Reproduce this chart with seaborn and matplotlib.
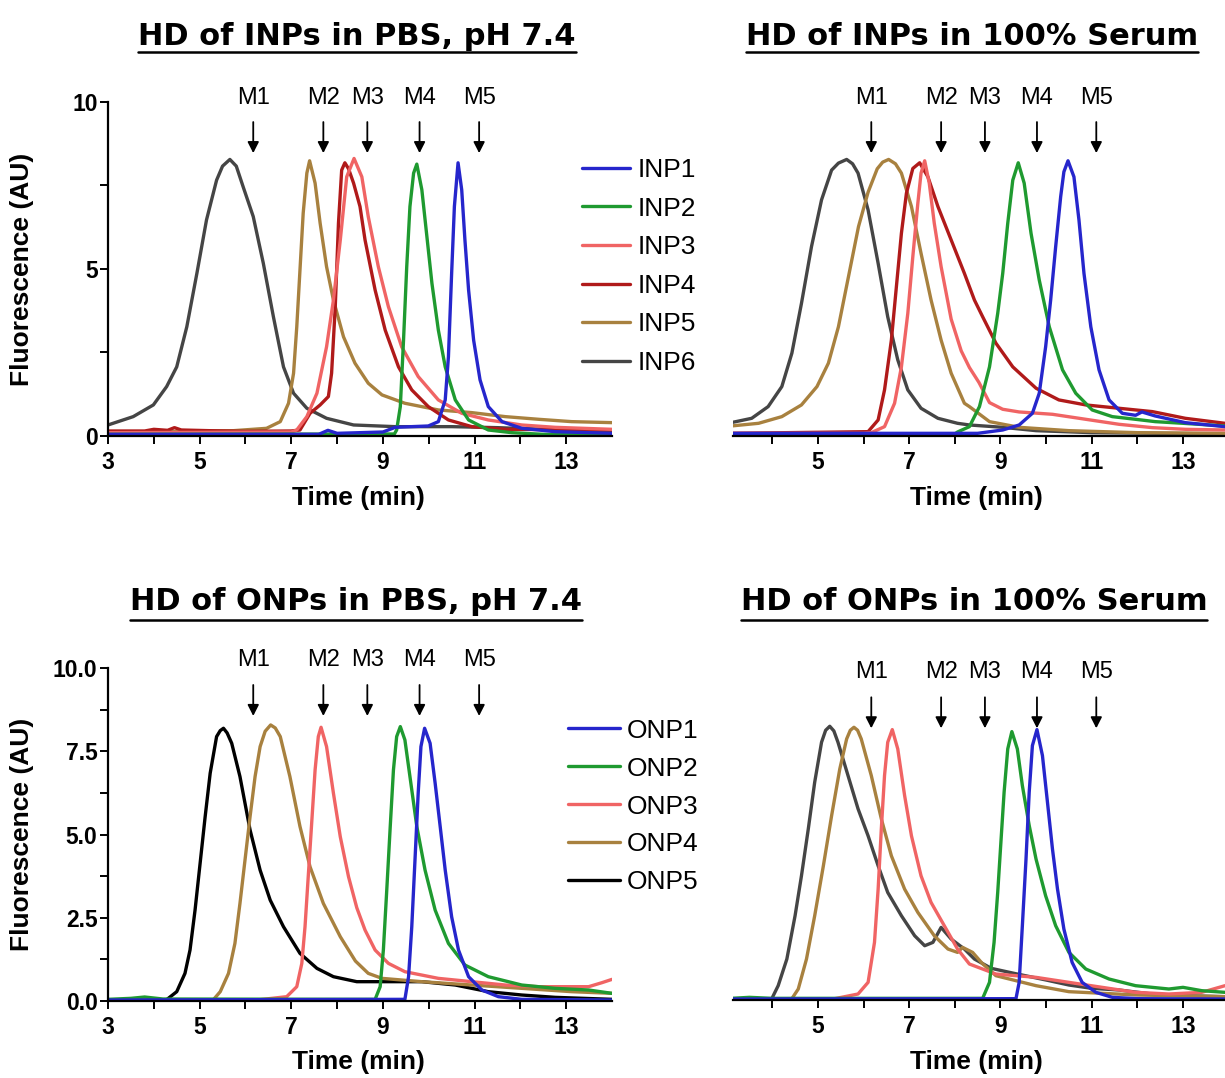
import matplotlib
matplotlib.use("Agg")
import matplotlib.pyplot as plt
from matplotlib.lines import Line2D
from matplotlib.ticker import FixedLocator
import seaborn as sns
import pandas as pd

sns.set_theme(style="ticks")
plt.rcParams["font.family"] = ["Liberation Sans", "DejaVu Sans"]
plt.rcParams.update({"text.color": "black", "axes.labelcolor": "black",
                     "xtick.color": "black", "ytick.color": "black",
                     "axes.edgecolor": "black"})

# ---------------- labels ----------------
TITLES = ["HD of INPs in PBS, pH 7.4", "HD of INPs in 100% Serum",
          "HD of ONPs in PBS, pH 7.4", "HD of ONPs in 100% Serum"]
X_LABEL = "Time (min)"
Y_LABEL = "Fluorescence (AU)"
MARKER_LABELS = ["M1", "M2", "M3", "M4", "M5"]
MARKER_TIMES = [6.17, 7.70, 8.66, 9.80, 11.10]
INP_NAMES = ["INP1", "INP2", "INP3", "INP4", "INP5", "INP6"]
ONP_NAMES = ["ONP1", "ONP2", "ONP3", "ONP4", "ONP5"]
X_TICKS_LEFT = [3, 5, 7, 9, 11, 13]
X_TICKS_RIGHT = [5, 7, 9, 11, 13]
X_MINOR = [4, 6, 8, 10, 12]
Y_TICKS_TOP = [0, 5, 10]
Y_TICKLABELS_TOP = ["0", "5", "10"]
Y_TICKS_BOTTOM = [0, 2.5, 5, 7.5, 10]
Y_TICKLABELS_BOTTOM = ["0.0", "2.5", "5.0", "7.5", "10.0"]

# ---------------- data: (time min, fluorescence AU) ----------------
PBS_INP1 = [(3.0, 0.05), (7.6, 0.05), (7.8, 0.17), (8.0, 0.08), (9.0, 0.12), (9.27, 0.26),
            (9.99, 0.30), (10.21, 0.43), (10.36, 1.08), (10.43, 2.37), (10.50, 4.87),
            (10.56, 6.87), (10.64, 8.18), (10.72, 7.37), (10.79, 5.87), (10.87, 4.37),
            (10.98, 2.87), (11.12, 1.68), (11.30, 0.88), (11.60, 0.43), (12.03, 0.23),
            (12.76, 0.13), (14.0, 0.08)]
PBS_INP2 = [(3.0, 0.05), (9.25, 0.06), (9.30, 0.18), (9.38, 0.88), (9.45, 2.87), (9.52, 5.07),
            (9.59, 6.87), (9.67, 7.87), (9.74, 8.14), (9.85, 7.37), (9.96, 5.97), (10.07, 4.57),
            (10.21, 3.17), (10.36, 2.07), (10.58, 1.08), (10.87, 0.48), (11.30, 0.18),
            (11.81, 0.10), (12.5, 0.05), (14.0, 0.05)]
PBS_INP3 = [(3.0, 0.10), (7.0, 0.12), (7.12, 0.18), (7.34, 0.58), (7.56, 1.28), (7.77, 2.67),
            (7.92, 4.07), (8.07, 5.87), (8.21, 7.76), (8.37, 8.31), (8.54, 7.76), (8.68, 6.57),
            (8.90, 5.07), (9.12, 3.87), (9.41, 2.67), (9.77, 1.78), (10.21, 1.08), (10.72, 0.68),
            (11.30, 0.48), (12.03, 0.33), (12.76, 0.26), (14.0, 0.20)]
PBS_INP4 = [(3.0, 0.15), (3.8, 0.15), (4.0, 0.20), (4.3, 0.17), (4.45, 0.25), (4.6, 0.18),
            (5.2, 0.16), (6.0, 0.14), (7.0, 0.15), (7.19, 0.18), (7.41, 0.68), (7.63, 0.93),
            (7.81, 1.18), (7.88, 1.88), (7.96, 3.87), (8.03, 6.37), (8.10, 7.96), (8.17, 8.18),
            (8.25, 8.00), (8.36, 7.57), (8.50, 6.87), (8.61, 5.87), (8.83, 4.37), (9.05, 3.17),
            (9.34, 2.07), (9.63, 1.38), (9.99, 0.88), (10.43, 0.48), (10.94, 0.28), (11.67, 0.20),
            (14.0, 0.18)]
PBS_INP5 = [(3.0, 0.10), (5.74, 0.16), (6.46, 0.23), (6.76, 0.43), (6.94, 0.98), (7.05, 1.88),
            (7.12, 3.27), (7.19, 4.97), (7.26, 6.67), (7.34, 7.87), (7.40, 8.24), (7.52, 7.57),
            (7.63, 6.37), (7.77, 5.07), (7.92, 4.07), (8.14, 2.97), (8.39, 2.18), (8.68, 1.58),
            (8.98, 1.23), (9.48, 0.98), (10.21, 0.78), (10.94, 0.70), (11.67, 0.58),
            (12.40, 0.50), (13.12, 0.43), (14.0, 0.40)]
PBS_INP6 = [(3.0, 0.33), (3.55, 0.58), (3.99, 0.93), (4.28, 1.48), (4.50, 2.07), (4.72, 3.27),
            (4.94, 4.87), (5.15, 6.47), (5.37, 7.66), (5.50, 8.08), (5.66, 8.28), (5.80, 8.08),
            (5.95, 7.46), (6.17, 6.57), (6.39, 5.17), (6.61, 3.57), (6.83, 2.07), (7.05, 1.28),
            (7.34, 0.83), (7.77, 0.53), (8.36, 0.33), (9.27, 0.28), (10.5, 0.28), (11.5, 0.25),
            (12.5, 0.20), (14.0, 0.15)]

SER_INP1 = [(3.1, 0.08), (8.5, 0.08), (9.05, 0.18), (9.41, 0.33), (9.70, 0.68), (9.85, 1.28),
            (9.99, 2.67), (10.10, 4.07), (10.21, 5.67), (10.32, 7.17), (10.39, 7.91),
            (10.48, 8.24), (10.61, 7.76), (10.72, 6.47), (10.83, 4.87), (10.98, 3.27),
            (11.16, 1.98), (11.38, 1.08), (11.67, 0.68), (11.96, 0.62), (12.1, 0.72),
            (12.39, 0.60), (13.05, 0.40), (13.92, 0.28)]
SER_INP2 = [(3.1, 0.05), (8.0, 0.06), (8.06, 0.12), (8.32, 0.28), (8.54, 0.88), (8.76, 2.07),
            (8.94, 3.67), (9.05, 4.87), (9.16, 6.37), (9.27, 7.66), (9.39, 8.18), (9.52, 7.57),
            (9.67, 6.07), (9.85, 4.67), (10.07, 3.27), (10.36, 1.98), (10.65, 1.28),
            (11.01, 0.78), (11.45, 0.58), (11.96, 0.50), (12.39, 0.43), (13.0, 0.38),
            (13.92, 0.30)]
SER_INP3 = [(3.1, 0.08), (6.0, 0.08), (6.17, 0.10), (6.46, 0.28), (6.68, 0.98), (6.83, 2.07),
            (6.97, 3.67), (7.08, 5.37), (7.19, 6.97), (7.26, 7.87), (7.34, 8.24), (7.44, 7.57),
            (7.55, 6.37), (7.70, 5.07), (7.92, 3.50), (8.14, 2.55), (8.32, 2.05), (8.53, 1.60),
            (8.76, 1.00), (9.05, 0.80), (9.41, 0.72), (10.14, 0.65), (10.87, 0.50),
            (11.60, 0.35), (12.33, 0.25), (13.05, 0.20), (13.92, 0.18)]
SER_INP4 = [(3.1, 0.08), (6.10, 0.13), (6.32, 0.48), (6.46, 1.38), (6.61, 2.87), (6.72, 4.47),
            (6.83, 6.07), (6.94, 7.27), (7.08, 8.01), (7.23, 8.18), (7.41, 7.76), (7.63, 6.87),
            (7.92, 5.87), (8.21, 4.87), (8.43, 4.07), (8.61, 3.57), (8.90, 2.78), (9.27, 2.07),
            (9.78, 1.43), (10.28, 1.08), (10.87, 0.93), (11.60, 0.83), (12.33, 0.73),
            (13.05, 0.53), (13.92, 0.38)]
SER_INP5 = [(3.1, 0.30), (3.70, 0.38), (4.21, 0.58), (4.64, 0.93), (4.98, 1.48), (5.23, 2.18),
            (5.45, 3.27), (5.67, 4.77), (5.89, 6.27), (6.10, 7.30), (6.30, 8.00), (6.42, 8.20),
            (6.55, 8.28), (6.70, 8.15), (6.83, 7.87), (7.05, 6.87), (7.26, 5.47), (7.48, 4.07),
            (7.70, 2.87), (7.92, 1.88), (8.21, 0.98), (8.32, 0.88), (8.76, 0.43), (9.41, 0.26),
            (10.50, 0.16), (12.0, 0.10), (13.92, 0.08)]
SER_INP6 = [(3.1, 0.40), (3.55, 0.53), (3.91, 0.88), (4.21, 1.48), (4.43, 2.48), (4.64, 3.97),
            (4.86, 5.67), (5.08, 7.07), (5.30, 7.96), (5.45, 8.17), (5.63, 8.28), (5.76, 8.15),
            (5.88, 7.87), (6.10, 6.77), (6.32, 5.17), (6.53, 3.57), (6.75, 2.28), (6.97, 1.38),
            (7.26, 0.83), (7.63, 0.53), (8.06, 0.38), (8.32, 0.33), (9.05, 0.26), (9.78, 0.16),
            (11.0, 0.10), (13.92, 0.06)]

PBS_ONP1 = [(3.0, 0.03), (9.48, 0.05), (9.56, 0.73), (9.63, 2.23), (9.70, 4.23), (9.77, 6.24),
            (9.83, 7.64), (9.91, 8.19), (10.03, 7.74), (10.14, 6.54), (10.25, 5.24),
            (10.36, 3.93), (10.50, 2.53), (10.65, 1.53), (10.87, 0.73), (11.16, 0.33),
            (11.52, 0.13), (12.03, 0.05), (14.0, 0.03)]
PBS_ONP2 = [(3.0, 0.05), (3.5, 0.08), (3.8, 0.12), (4.2, 0.06), (8.83, 0.05), (8.94, 0.43),
            (9.01, 1.53), (9.08, 3.23), (9.16, 5.24), (9.23, 6.94), (9.30, 7.94), (9.38, 8.24),
            (9.48, 7.84), (9.59, 6.74), (9.74, 5.24), (9.92, 3.93), (10.14, 2.73), (10.43, 1.73),
            (10.79, 1.08), (11.30, 0.73), (12.03, 0.48), (12.76, 0.38), (13.49, 0.33),
            (14.0, 0.23)]
PBS_ONP3 = [(3.0, 0.03), (6.32, 0.04), (6.90, 0.13), (7.12, 0.43), (7.23, 1.13), (7.30, 2.23),
            (7.37, 3.73), (7.45, 5.44), (7.52, 6.94), (7.59, 7.94), (7.65, 8.22), (7.77, 7.64),
            (7.92, 6.24), (8.07, 4.93), (8.25, 3.73), (8.43, 2.80), (8.61, 2.13), (8.83, 1.53),
            (9.12, 1.13), (9.48, 0.88), (10.21, 0.68), (10.94, 0.58), (11.67, 0.48),
            (12.40, 0.43), (13.49, 0.43), (13.78, 0.55), (14.0, 0.65)]
PBS_ONP4 = [(3.0, 0.03), (5.30, 0.04), (5.45, 0.28), (5.63, 0.83), (5.77, 1.73), (5.88, 2.93),
            (5.99, 4.23), (6.10, 5.53), (6.21, 6.74), (6.32, 7.64), (6.43, 8.10), (6.55, 8.29),
            (6.65, 8.20), (6.76, 7.94), (6.97, 6.74), (7.19, 5.24), (7.41, 4.03), (7.70, 2.93),
            (8.07, 1.93), (8.40, 1.20), (8.68, 0.83), (8.98, 0.68), (9.85, 0.58), (10.94, 0.48),
            (12.03, 0.38), (13.12, 0.28), (14.0, 0.23)]
PBS_ONP5 = [(3.0, 0.03), (4.28, 0.04), (4.50, 0.28), (4.68, 0.83), (4.79, 1.53), (4.90, 2.73),
            (5.01, 4.13), (5.12, 5.53), (5.23, 6.84), (5.37, 7.94), (5.45, 8.12), (5.52, 8.19),
            (5.60, 8.05), (5.70, 7.74), (5.88, 6.74), (6.10, 5.14), (6.32, 3.93), (6.54, 3.03),
            (6.83, 2.23), (7.19, 1.43), (7.56, 0.98), (7.92, 0.73), (8.43, 0.58), (9.85, 0.58),
            (10.58, 0.48), (11.30, 0.28), (12.03, 0.18), (12.76, 0.11), (14.0, 0.05)]

SER_ONP1 = [(3.1, 0.03), (9.34, 0.04), (9.41, 0.53), (9.48, 2.23), (9.56, 4.23), (9.63, 6.24),
            (9.70, 7.64), (9.80, 8.12), (9.92, 7.34), (10.03, 5.94), (10.14, 4.53),
            (10.25, 3.33), (10.39, 2.13), (10.57, 1.13), (10.79, 0.53), (11.09, 0.23),
            (11.45, 0.08), (12.0, 0.04), (13.92, 0.03)]
SER_ONP2 = [(3.1, 0.05), (3.5, 0.08), (4.0, 0.05), (8.61, 0.05), (8.76, 0.53), (8.86, 1.73),
            (8.94, 3.23), (9.01, 4.74), (9.08, 6.24), (9.16, 7.54), (9.25, 8.06), (9.37, 7.54),
            (9.48, 6.44), (9.63, 5.24), (9.78, 4.23), (9.99, 3.13), (10.21, 2.23), (10.50, 1.43),
            (10.87, 0.93), (11.38, 0.63), (11.96, 0.43), (12.69, 0.33), (13.0, 0.38),
            (13.41, 0.28), (13.92, 0.23)]
SER_ONP3 = [(3.1, 0.03), (5.37, 0.04), (5.88, 0.18), (6.10, 0.53), (6.24, 1.73), (6.32, 3.33),
            (6.39, 5.14), (6.46, 6.74), (6.53, 7.74), (6.63, 8.12), (6.75, 7.54), (6.90, 6.14),
            (7.05, 4.93), (7.26, 3.73), (7.48, 2.93), (7.77, 2.23), (8.06, 1.53), (8.32, 1.08),
            (8.90, 0.78), (9.78, 0.68), (10.50, 0.53), (11.23, 0.38), (11.96, 0.23),
            (12.69, 0.18), (13.41, 0.23), (13.92, 0.43)]
SER_ONP4 = [(3.1, 0.03), (4.43, 0.04), (4.57, 0.33), (4.75, 1.23), (4.93, 2.53), (5.12, 4.03),
            (5.30, 5.53), (5.48, 6.94), (5.63, 7.84), (5.71, 8.10), (5.79, 8.19), (5.87, 8.10),
            (5.95, 7.84), (6.17, 6.74), (6.39, 5.44), (6.61, 4.33), (6.90, 3.33), (7.19, 2.63),
            (7.55, 1.93), (7.85, 1.53), (8.06, 1.43), (8.17, 1.58), (8.39, 1.43), (8.60, 1.10),
            (8.90, 0.73), (9.78, 0.43), (10.50, 0.25), (12.0, 0.15), (13.92, 0.10)]
SER_ONP5 = [(3.1, 0.03), (3.99, 0.04), (4.13, 0.43), (4.32, 1.23), (4.50, 2.53), (4.64, 3.73),
            (4.79, 5.14), (4.93, 6.54), (5.08, 7.74), (5.17, 8.10), (5.26, 8.22), (5.35, 8.08),
            (5.44, 7.74), (5.66, 6.74), (5.88, 5.74), (6.10, 4.93), (6.32, 4.03), (6.53, 3.23),
            (6.83, 2.53), (7.12, 1.93), (7.34, 1.63), (7.52, 1.73), (7.70, 2.18), (7.92, 1.83),
            (8.21, 1.53), (8.43, 1.23), (8.80, 0.95), (9.30, 0.80), (10.0, 0.60), (10.5, 0.45),
            (11.0, 0.35), (11.6, 0.30), (12.5, 0.15), (13.92, 0.10)]

# ---------------- styles ----------------
BLUE, GREEN, SALMON, DARKRED, TAN, GRAY, BLACK = (
    "#2626cc", "#1f9a30", "#f06464", "#b01a1a", "#a8813f", "#454545", "#000000")
INP_COLORS = [BLUE, GREEN, SALMON, DARKRED, TAN, GRAY]
ONP_PBS_COLORS = [BLUE, GREEN, SALMON, TAN, BLACK]
ONP_SER_COLORS = [BLUE, GREEN, SALMON, TAN, GRAY]

W, H = 1225, 1078
fig = plt.figure(figsize=(W / 100, H / 100), dpi=100)


def px_rect(x0, x1, ybot, ytop):
    return [x0 / W, 1 - ybot / H, (x1 - x0) / W, (ybot - ytop) / H]


def frame(names, curves):
    rows = []
    for n, c in zip(names, curves):
        for t, f in c:
            rows.append({"series": n, "time": t, "fluor": f})
    return pd.DataFrame(rows)


panels = [
    dict(rect=px_rect(108, 612, 436, 102), names=INP_NAMES,
         curves=[PBS_INP1, PBS_INP2, PBS_INP3, PBS_INP4, PBS_INP5, PBS_INP6],
         colors=INP_COLORS, xlim=(3, 14), left=True, yt=Y_TICKS_TOP, ytl=Y_TICKLABELS_TOP,
         yminor=[2.5, 7.5], ann=(10.12, 9.40, 8.47)),
    dict(rect=px_rect(733, 1225, 436, 102), names=INP_NAMES,
         curves=[SER_INP1, SER_INP2, SER_INP3, SER_INP4, SER_INP5, SER_INP6],
         colors=INP_COLORS, xlim=(3.14, 13.92), left=False, ann=(10.12, 9.40, 8.47)),
    dict(rect=px_rect(108, 612, 1001, 668), names=ONP_NAMES,
         curves=[PBS_ONP1, PBS_ONP2, PBS_ONP3, PBS_ONP4, PBS_ONP5],
         colors=ONP_PBS_COLORS, xlim=(3, 14), left=True, yt=Y_TICKS_BOTTOM,
         ytl=Y_TICKLABELS_BOTTOM, yminor=[1.25, 3.75, 6.25, 8.75], ann=(10.24, 9.49, 8.56)),
    dict(rect=px_rect(733, 1225, 1000, 667), names=ONP_NAMES,
         curves=[SER_ONP1, SER_ONP2, SER_ONP3, SER_ONP4, SER_ONP5],
         colors=ONP_SER_COLORS, xlim=(3.14, 13.92), left=False, ann=(9.84, 9.09, 8.16)),
]

axes = []
for p in panels:
    ax = fig.add_axes(p["rect"])
    df = frame(p["names"], p["curves"])
    pal = dict(zip(p["names"], p["colors"]))
    sns.lineplot(data=df, x="time", y="fluor", hue="series", hue_order=p["names"][::-1],
                 palette=pal, linewidth=2.4, legend=False, sort=False, ax=ax,
                 estimator=None)
    ax.set_xlabel("")
    ax.set_ylabel("")
    ax.set_xlim(*p["xlim"])
    ax.set_ylim(0, 10)
    for s in ("top", "right"):
        ax.spines[s].set_visible(False)
    ax.spines["bottom"].set_linewidth(1.6)
    ax.spines["left"].set_linewidth(1.6)
    xt = X_TICKS_LEFT if p["left"] else X_TICKS_RIGHT
    ax.set_xticks(xt)
    ax.set_xticklabels([str(v) for v in xt], fontweight="bold", fontsize=16.5)
    ax.xaxis.set_minor_locator(FixedLocator(X_MINOR))
    ax.tick_params(axis="x", which="both", direction="out", length=5.5, width=1.4,
                   pad=5, color="black", labelcolor="black", bottom=True)
    if p["left"]:
        ax.set_yticks(p["yt"])
        ax.set_yticklabels(p["ytl"], fontweight="bold", fontsize=16.5)
        ax.yaxis.set_minor_locator(FixedLocator(p["yminor"]))
        ax.tick_params(axis="y", which="both", direction="out", length=5.5, width=1.4,
                       pad=2, color="black", labelcolor="black", left=True)
    else:
        ax.spines["left"].set_visible(False)
        ax.tick_params(axis="y", which="both", left=False, labelleft=False)
    ly, ay0, ay1 = p["ann"]
    for lab, t in zip(MARKER_LABELS, MARKER_TIMES):
        ax.annotate("", xy=(t, ay1), xytext=(t, ay0),
                    arrowprops=dict(arrowstyle="-|>,head_width=0.28,head_length=0.55",
                                    color="black", lw=1.3, shrinkA=0, shrinkB=0),
                    annotation_clip=False)
        ax.text(t, ly, lab, ha="center", va="center", fontsize=17, color="black",
                clip_on=False)
    ax.set_facecolor("white")
    axes.append(ax)

# axis labels
for cx, cy in [(358, 498), (976, 498), (358, 1062), (976, 1062)]:
    fig.text(cx / W, 1 - cy / H, X_LABEL, ha="center", va="center",
             fontsize=19, fontweight="bold", color="black")
for cy in [269, 834]:
    fig.text(22 / W, 1 - cy / H, Y_LABEL, ha="center", va="center", rotation=90,
             fontsize=19, fontweight="bold", color="black")

# titles with underline
title_specs = [(357, 45, 52), (972, 45, 52), (356, 610, 620), (974, 610, 620)]
title_objs = []
for ttl, (cx, base, uy) in zip(TITLES, title_specs):
    t = fig.text(cx / W, 1 - base / H, ttl, ha="center", va="baseline", fontsize=22,
                 fontweight="bold", family="DejaVu Sans", color="black")
    title_objs.append((t, uy))
fig.canvas.draw()
rend = fig.canvas.get_renderer()
for t, uy in title_objs:
    bb = t.get_window_extent(rend)
    fig.add_artist(Line2D([bb.x0 / W, bb.x1 / W], [1 - uy / H, 1 - uy / H],
                          transform=fig.transFigure, color="black", lw=1.8))

# legends
top_handles = [Line2D([], [], color=c, lw=2.4) for c in INP_COLORS]
fig.legend(top_handles, INP_NAMES, loc="center left",
           bbox_to_anchor=(582 / W, 1 - 266.5 / H), frameon=False, fontsize=19,
           handlelength=1.82, handletextpad=0.3, labelspacing=0.55, borderpad=0,
           borderaxespad=0, labelcolor="black")
bot_handles = [Line2D([], [], color=c, lw=2.4) for c in ONP_PBS_COLORS]
fig.legend(bot_handles, ONP_NAMES, loc="center left",
           bbox_to_anchor=(568 / W, 1 - 806.5 / H), frameon=False, fontsize=19,
           handlelength=1.97, handletextpad=0.25, labelspacing=0.53, borderpad=0,
           borderaxespad=0, labelcolor="black")

fig.savefig("out.png", dpi=100, facecolor="white")
